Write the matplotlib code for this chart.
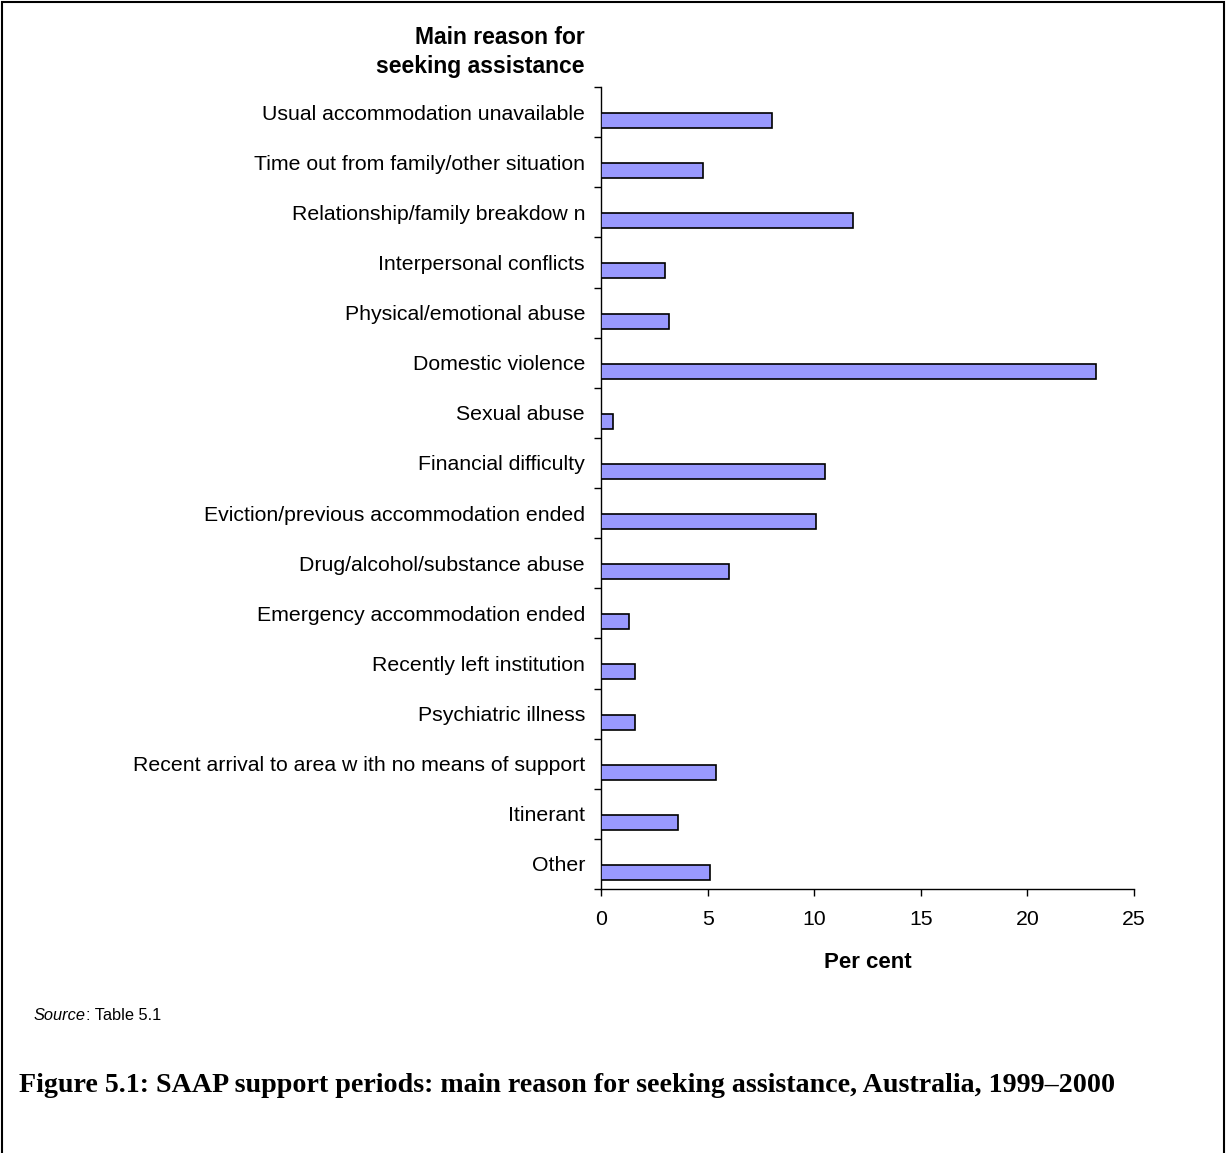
import matplotlib
matplotlib.use("Agg")
import matplotlib.pyplot as plt
from matplotlib.patches import Rectangle
import numpy as np

categories = [
    "Usual accommodation unavailable",
    "Time out from family/other situation",
    "Relationship/family breakdow n",
    "Interpersonal conflicts",
    "Physical/emotional abuse",
    "Domestic violence",
    "Sexual abuse",
    "Financial difficulty",
    "Eviction/previous accommodation ended",
    "Drug/alcohol/substance abuse",
    "Emergency accommodation ended",
    "Recently left institution",
    "Psychiatric illness",
    "Recent arrival to area w ith no means of support",
    "Itinerant",
    "Other",
]
values = [8.0, 4.8, 11.8, 3.0, 3.2, 23.2, 0.55, 10.5, 10.1, 6.0, 1.3, 1.6, 1.6, 5.4, 3.6, 5.1]
xticks = [0, 5, 10, 15, 20, 25]

plt.rcParams['font.family'] = ['Liberation Sans', 'DejaVu Sans']

W, H = 1226, 1153
fig = plt.figure(figsize=(W / 100, H / 100), dpi=100)
ax = fig.add_axes([601 / W, 1 - 889 / H, (1134 - 601) / W, (889 - 87) / H])

n = len(categories)
idx = np.arange(n)
ax.barh(idx + 0.67, values, height=0.30, color='#9999FF', edgecolor='black', linewidth=1.2, zorder=3)

ax.set_ylim(n, 0)
ax.set_xlim(0, 25)
ax.set_yticks(np.arange(n + 1))
ax.set_yticklabels([])
ax.set_yticks(idx + 0.5, minor=True)
ax.set_yticklabels(categories, minor=True, fontsize=15.3)
ax.tick_params(axis='y', which='major', direction='out', length=5, width=1)
ax.tick_params(axis='y', which='minor', length=0, pad=11.5)
ax.set_xticks(xticks)
ax.set_xticklabels([str(t) for t in xticks], fontsize=15.3)
ax.tick_params(axis='x', direction='out', length=5, width=1, pad=10)
for s in ['top', 'right']:
    ax.spines[s].set_visible(False)
for s in ['left', 'bottom']:
    ax.spines[s].set_linewidth(1)

fig.text((601 + 1134) / 2 / W, 1 - 963 / H, "Per cent", ha='center', va='center', fontsize=16, fontweight='bold')

fig.text(585 / W, 1 - 37 / H, "Main reason for", ha='right', va='center', fontsize=16.5, fontweight='bold')
fig.text(585 / W, 1 - 66 / H, "seeking assistance", ha='right', va='center', fontsize=16.5, fontweight='bold')

src_it = fig.text(34 / W, 1 - 1016 / H, "Source", ha='left', va='center', fontsize=11.8, style='italic')
fig.canvas.draw()
bb = src_it.get_window_extent()
fig.text(bb.x1 / W, 1 - 1016 / H, ": Table 5.1", ha='left', va='center', fontsize=11.8)

fig.text(19 / W, 1 - 1086 / H,
         "Figure 5.1: SAAP support periods: main reason for seeking assistance, Australia, 1999\u20132000",
         ha='left', va='center', fontsize=20.2, fontweight='bold', family=['Liberation Serif', 'DejaVu Serif'])

fig.patches.append(Rectangle((2 / W, -0.01), (1222) / W, 1 - 2 / H + 0.01, transform=fig.transFigure,
                             fill=False, edgecolor='black', linewidth=1.5))

fig.savefig("out.png", dpi=100)
